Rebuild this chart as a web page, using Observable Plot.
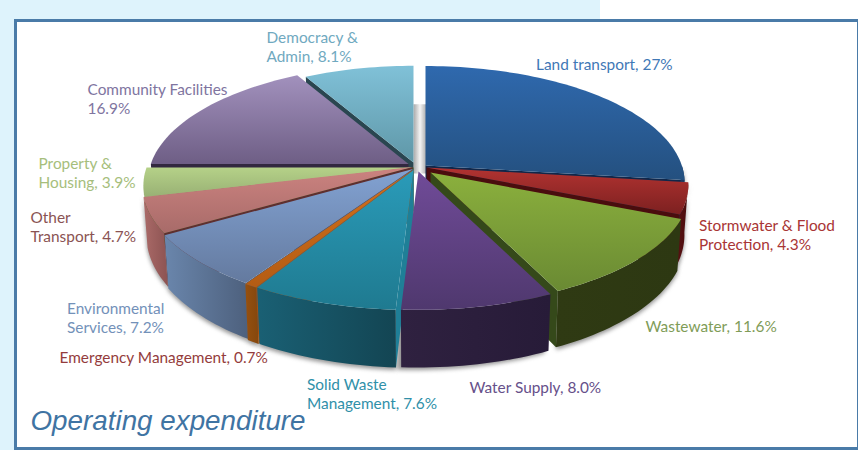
<!DOCTYPE html>
<html>
<head>
<meta charset="utf-8">
<script src="https://cdn.jsdelivr.net/npm/d3@7"></script>
<script src="https://cdn.jsdelivr.net/npm/@observablehq/plot@0.6"></script>
<style>
  html, body { margin: 0; padding: 0; background: #fff; }
  #page { position: relative; width: 858px; height: 450px; overflow: hidden; }
  #tint { position: absolute; left: 0; top: 0; width: 600px; height: 450px; background: #def3fc; }
  #panel { position: absolute; left: 14px; top: 19px; width: 840px; height: 425px; background: #fff; border: 3px solid #4a7ba8; }
  #chart { position: absolute; left: 0; top: 0; }
</style>
</head>
<body>
<div id="page"><div id="tint"></div><div id="panel"></div><div id="chart"></div></div>
<script>
// Operating expenditure by activity, percent of total, clockwise from twelve o'clock.
const categories = ["Land transport", "Stormwater & Flood Protection", "Wastewater", "Water Supply",
  "Solid Waste Management", "Emergency Management", "Environmental Services", "Other Transport",
  "Property & Housing", "Community Facilities", "Democracy & Admin"];
const shares = [27, 4.3, 11.6, 8.0, 7.6, 0.7, 7.2, 4.7, 3.9, 16.9, 8.1];
const labels = ["Land transport, 27%", "Stormwater & Flood\nProtection, 4.3%", "Wastewater, 11.6%",
  "Water Supply, 8.0%", "Solid Waste\nManagement, 7.6%", "Emergency Management, 0.7%",
  "Environmental\nServices, 7.2%", "Other\nTransport, 4.7%", "Property &\nHousing, 3.9%",
  "Community Facilities\n16.9%", "Democracy &\nAdmin, 8.1%"];
const chartTitle = "Operating expenditure";

// Face colours per slice: top face (upper, lower), outer wall (left, right), cut face, label.
const topHi  = ["#2f69ae", "#b23331", "#8bb03d", "#704b98", "#2a9bb9", "#d4701a", "#82a2d2", "#cc8380", "#b5d188", "#a291bd", "#80c1d8"];
const topLo  = ["#24507f", "#7c2020", "#6a8a33", "#4f386e", "#1f7a90", "#b35c14", "#647a9f", "#a86b69", "#98b074", "#6e5e85", "#5f97a7"];
const wallA  = ["#1a3a63", "#5a1112", "#2f3a13", "#2f2140", "#1a6074", "#96500f", "#6a86ac", "#aa6a68", "#90a66e", "#5e5075", "#4d7e8c"];
const wallB  = ["#1a3a63", "#4a0d0e", "#2d3812", "#271b38", "#134553", "#85470d", "#4d607d", "#8c5352", "#90a66e", "#5e5075", "#4d7e8c"];
const cutFill = ["#10274a", "#4a0d0e", "#35491a", "#2f2140", "#1f7f97", "#a9500f", "#3f5778", "#5e2f2f", "#3e5a20", "#32283f", "#2a4650"];
const labelFill = ["#3f78b6", "#a93535", "#7f9c58", "#66508a", "#3090a9", "#943c3c", "#7391b9", "#8a5353", "#a6be7c", "#80759f", "#70a9c0"];

// Label anchors in page pixels, first line.
const labelX = [535.5, 698.5, 645, 469, 306.5, 59, 66.5, 30, 38, 87, 266];
const labelY = [64, 225, 326, 387, 384, 357, 308, 217, 163, 89, 37];

// Exploded placement of each slice: apex and radial scale.
const apexX = [425, 426, 430, 418, 413, 412, 412.5, 412, 413, 408, 413];
const apexY = [165, 167, 172, 171, 169.5, 169.5, 168.5, 166.5, 167, 163.5, 162];
const radius = [0.96, 0.97, 0.96, 0.99, 1, 1, 1, 1, 1, 0.965, 0.93];

// Tilted disc: a unit circle seen in perspective.
const spreadX = 267, spreadY = 118.7, tilt = 0.152, depth = 49, taper = 0.985;
const rad = Math.PI / 180;

const angles = d3.cumsum([0, ...shares]).map(v => v * 3.6);
function project(i, deg, r, lowered) {
  const cx = Math.sin(deg * rad) * r, cy = Math.cos(deg * rad) * r;
  const w = 1 + tilt * cy;
  const dx = spreadX * cx / w, dy = -spreadY * cy / w;
  return lowered
    ? {x: apexX[i] + dx * taper, y: apexY[i] + dy + depth / w}
    : {x: apexX[i] + dx, y: apexY[i] + dy};
}
function arc(i, from, to, lowered) {
  const n = Math.max(2, Math.ceil((to - from) / 1.5));
  return d3.range(n + 1).map(k => project(i, from + (to - from) * k / n, radius[i], lowered));
}
const topFace = i => [project(i, 0, 0, false), ...arc(i, angles[i], angles[i + 1], false), project(i, 0, 0, false)];
function outerWall(i) {
  const from = Math.max(angles[i], 90), to = Math.min(angles[i + 1], 258);
  if (to <= from) return null;
  const up = arc(i, from, to, false), down = arc(i, from, to, true).reverse();
  return [...up, ...down, up[0]];
}
function cutFace(i) {
  const s = angles[i], e = angles[i + 1];
  const edge = e < 180 ? e : s > 180 ? s : null;
  if (edge === null) return null;
  const r = radius[i];
  return [project(i, 0, 0, false), project(i, edge, r, false), project(i, edge, r, true), project(i, 0, 0, true), project(i, 0, 0, false)];
}

// Back slices first so nearer ones overlap them.
const paintOrder = [10, 9, 0, 8, 1, 7, 2, 6, 5, 4, 3];

function gradient(defs, id, stops, horizontal) {
  const g = defs.append("linearGradient").attr("id", id)
    .attr("x1", 0).attr("y1", 0).attr("x2", horizontal ? 1 : 0).attr("y2", horizontal ? 0 : 1);
  stops.forEach((c, k) => g.append("stop").attr("offset", k / (stops.length - 1)).attr("stop-color", c));
}
const defsMark = () => {
  const defs = d3.create("svg:defs");
  shares.forEach((_, i) => {
    gradient(defs, `top${i}`, [topHi[i], topLo[i]], false);
    gradient(defs, `wall${i}`, [wallA[i], wallB[i]], true);
  });
  gradient(defs, "gap", ["#a9a9a9", "#f4f4f4", "#a9a9a9"], true);
  return defs.node();
};

const closedShape = (points, options) => Plot.line(points, {x: "x", y: "y", curve: "linear", stroke: "none", ...options});

// The pale shaded channel between the two back slices.
const gapTop = project(10, 0, 0.53, false);
const gapShape = [gapTop, {x: apexX[0] + 1, y: gapTop.y}, {x: apexX[0] + 1, y: apexY[0] + 8}, {x: apexX[10], y: apexY[0] + 8}];

const marks = [defsMark];
marks.push(closedShape([...gapShape, gapShape[0]], {fill: "url(#gap)"}));
// Soft contact shadow under the near walls; the one behind Water Supply also fills the slit beside it.
paintOrder.forEach(i => {
  const wall = outerWall(i);
  if (wall) marks.push(closedShape(wall.map(p => ({x: p.x - (i === 3 ? 4 : 0), y: p.y + 2.5})), {fill: "#707070", fillOpacity: 0.75, imageFilter: "blur(2px)"}));
});
paintOrder.forEach(i => {
  const cut = cutFace(i), wall = outerWall(i);
  if (cut) marks.push(closedShape(cut, {fill: cutFill[i]}));
  if (wall) marks.push(closedShape(wall, {fill: `url(#wall${i})`}));
  marks.push(closedShape(topFace(i), {fill: `url(#top${i})`}));
});
marks.push(Plot.text(shares.map((_, i) => i), {
  x: i => labelX[i], y: i => labelY[i], text: i => labels[i], fill: i => labelFill[i],
  textAnchor: "start", lineAnchor: "top", dy: -8.5, fontFamily: "Lato", fontSize: 15.4, lineHeight: 1.26
}));
marks.push(Plot.text([chartTitle], {
  x: [30], y: [421], text: d => d, fill: "#3f74a3", textAnchor: "start",
  fontFamily: "Liberation Sans", fontStyle: "italic", fontSize: 27.8
}));

const chart = Plot.plot({
  width: 858, height: 450, margin: 0,
  x: {domain: [0, 858], range: [0, 858], axis: null},
  y: {domain: [0, 450], range: [0, 450], axis: null},
  color: {type: "identity"},
  style: {background: "transparent"},
  marks
});
document.getElementById("chart").append(chart);
</script>
</body>
</html>
